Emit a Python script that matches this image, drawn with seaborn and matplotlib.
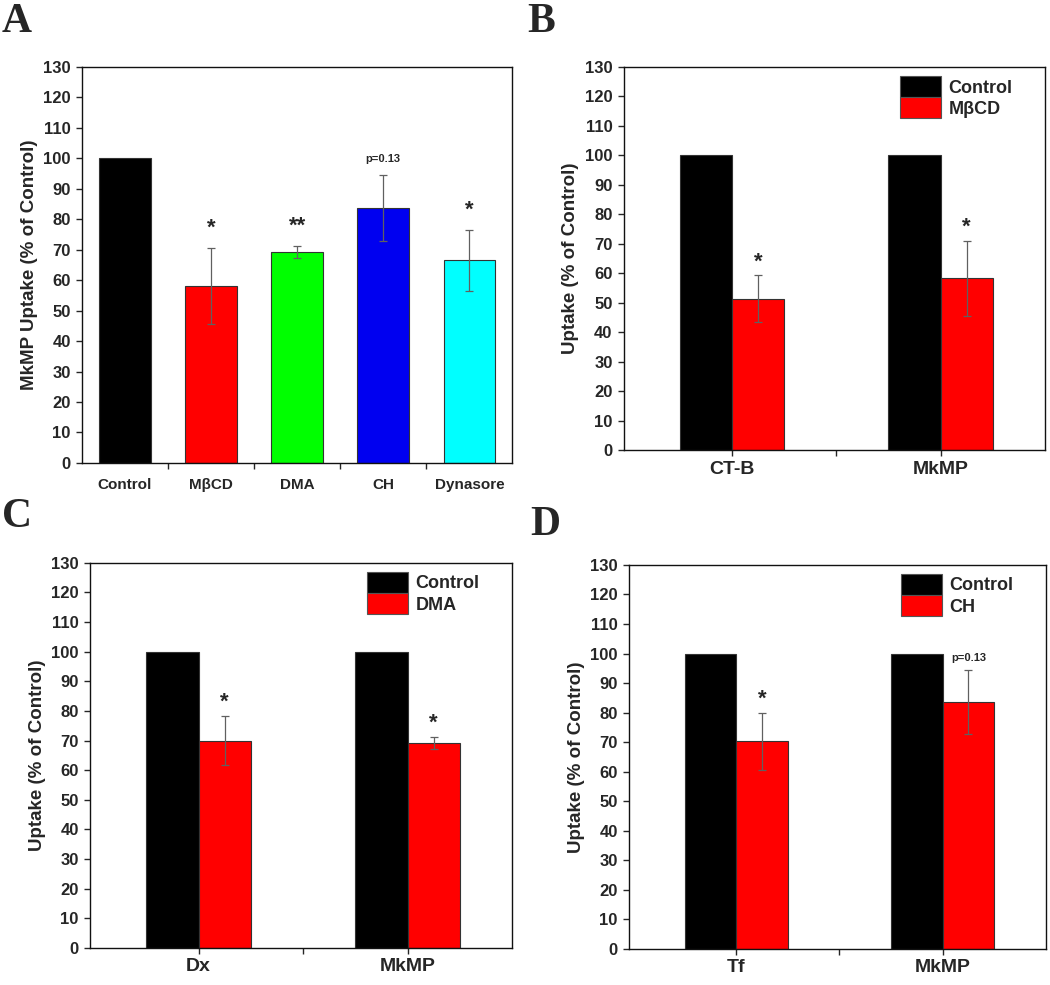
import numpy as np
import pandas as pd
from matplotlib import pyplot as plt
import seaborn as sns

# ---- data ----
A_cats = ["Control", "M\u03b2CD", "DMA", "CH", "Dynasore"]
A_vals = [100, 58.1, 69.3, 83.6, 66.5]
A_err = [0, 12.6, 2.0, 10.8, 9.9]
A_marks = ["", "*", "**", "p=0.13", "*"]
A_colors = ["#000000", "#FF0000", "#00FF00", "#0000F0", "#00FFFF"]

B_cats = ["CT-B", "MkMP"]
B_control = [100, 100]
B_treat = [51.4, 58.3]
B_err = [8.0, 12.7]
B_marks = ["*", "*"]

C_cats = ["Dx", "MkMP"]
C_control = [100, 100]
C_treat = [70.0, 69.3]
C_err = [8.4, 2.0]
C_marks = ["*", "*"]

D_cats = ["Tf", "MkMP"]
D_control = [100, 100]
D_treat = [70.3, 83.5]
D_err = [9.6, 10.8]
D_marks = ["*", "p=0.13"]

yticks = np.arange(0, 131, 10)

sns.set_style("ticks")
plt.rcParams['font.family'] = ['Liberation Sans', 'DejaVu Sans']
plt.rcParams['font.weight'] = 'bold'

EDGE = "#333333"
ERRC = "#606060"


def style_axes(ax, ylabel):
    ax.set_ylim(0, 130)
    ax.set_yticks(yticks)
    ax.set_yticklabels([str(t) for t in yticks], fontsize=12, fontweight='bold')
    ax.set_ylabel(ylabel, fontsize=13.5, fontweight='bold')
    ax.set_xlabel("")
    for s in ax.spines.values():
        s.set_visible(True)
        s.set_color("#111111")
        s.set_linewidth(1.0)
    ax.tick_params(axis='y', direction='out', length=4, width=1, pad=4)
    ax.tick_params(axis='x', which='both', direction='out', length=4, width=1)


def annotate(ax, xs, tops, marks, gap_star, gap_p):
    for x, t, m in zip(xs, tops, marks):
        if not m:
            continue
        if m.startswith("p"):
            ax.text(x, t + gap_p, m, ha='center', va='center', fontsize=8, fontweight='bold')
        else:
            ax.text(x, t + gap_star, m, ha='center', va='center', fontsize=16, fontweight='bold')


def panel_a(ax):
    sns.barplot(x=A_cats, y=A_vals, hue=A_cats, palette=A_colors, width=0.6,
                saturation=1, legend=False, edgecolor=EDGE, linewidth=0.8, ax=ax)
    xs = [c.patches[0].get_x() + c.patches[0].get_width() / 2 for c in ax.containers]
    hs = [c.patches[0].get_height() for c in ax.containers]
    ax.errorbar(xs[1:], hs[1:], yerr=A_err[1:], fmt='none', ecolor=ERRC,
                elinewidth=0.9, capsize=3, capthick=0.9)
    tops = [h + e for h, e in zip(hs, A_err)]
    annotate(ax, xs, tops, A_marks, 6.5, 5.5)
    ax.set_xlim(-0.5, len(A_cats) - 0.5)
    style_axes(ax, "MkMP Uptake (% of Control)")
    ax.set_xticks(range(len(A_cats)))
    ax.set_xticklabels(A_cats, fontsize=11, fontweight='bold')
    ax.set_xticks(np.arange(0.5, len(A_cats) - 1, 1.0), minor=True)
    ax.tick_params(axis='x', which='major', length=0, pad=11)


def panel_pair(ax, cats, control, treat, err, marks, treat_name):
    df = pd.DataFrame({
        "cat": cats + cats,
        "val": control + treat,
        "grp": ["Control"] * len(cats) + [treat_name] * len(cats),
    })
    sns.barplot(data=df, x="cat", y="val", hue="grp", hue_order=["Control", treat_name],
                palette=["#000000", "#FF0000"], width=0.5, saturation=1, edgecolor=EDGE,
                linewidth=0.8, ax=ax)
    red = ax.containers[1]
    xs = [p.get_x() + p.get_width() / 2 for p in red.patches]
    hs = [p.get_height() for p in red.patches]
    ax.errorbar(xs, hs, yerr=err, fmt='none', ecolor=ERRC,
                elinewidth=0.9, capsize=3, capthick=0.9)
    tops = [h + e for h, e in zip(hs, err)]
    annotate(ax, xs, tops, marks, 4.5, 4.3)
    ax.set_xlim(-0.52, 1.5)
    style_axes(ax, "Uptake (% of Control)")
    ax.set_xticks(range(len(cats)))
    ax.set_xticklabels(cats, fontsize=14, fontweight='bold')
    ax.set_xticks([0.5], minor=True)
    leg = ax.legend(loc='upper right', bbox_to_anchor=(0.94, 0.995), frameon=False,
                    fontsize=13, handlelength=2.3, handleheight=1.4,
                    labelspacing=0.02, handletextpad=0.4, borderaxespad=0)
    for t in leg.get_texts():
        t.set_fontweight('bold')
    for h in leg.legend_handles:
        h.set_edgecolor("#555555")
        h.set_linewidth(0.8)


fig = plt.figure(figsize=(10.5, 9.85), dpi=100)
axA = fig.add_axes([0.078, 0.530, 0.410, 0.402])
axB = fig.add_axes([0.594, 0.543, 0.401, 0.389])
axC = fig.add_axes([0.0857, 0.0376, 0.402, 0.391])
axD = fig.add_axes([0.599, 0.0365, 0.397, 0.390])

panel_a(axA)
panel_pair(axB, B_cats, B_control, B_treat, B_err, B_marks, "M\u03b2CD")
panel_pair(axC, C_cats, C_control, C_treat, C_err, C_marks, "DMA")
panel_pair(axD, D_cats, D_control, D_treat, D_err, D_marks, "CH")

letter_kw = dict(fontsize=30, fontweight='bold', family=['Liberation Serif', 'DejaVu Serif'],
                 va='baseline', ha='left')
fig.text(0.002, 0.9675, "A", **letter_kw)
fig.text(0.502, 0.9675, "B", **letter_kw)
fig.text(0.002, 0.465, "C", **letter_kw)
fig.text(0.505, 0.457, "D", **letter_kw)

fig.savefig("out.png", dpi=100)
